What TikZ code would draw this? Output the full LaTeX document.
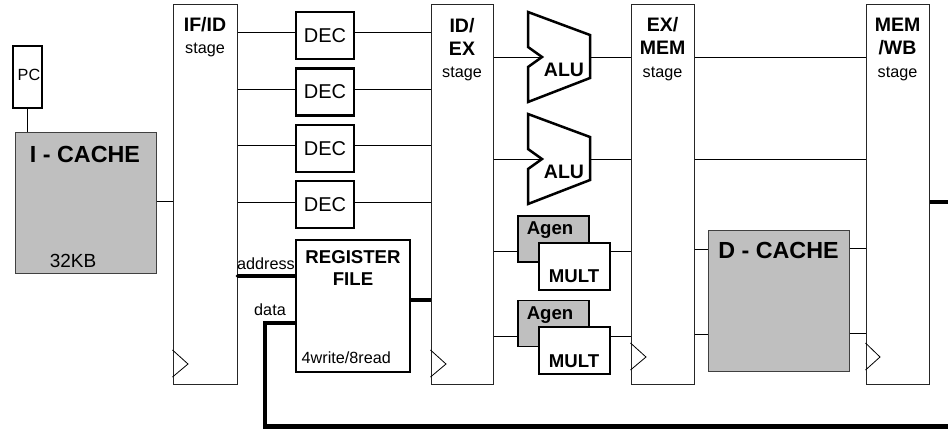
\documentclass[tikz,border=0pt]{standalone}
\usepackage{fontspec}
\setmainfont{Liberation Sans}
\newcommand\myhead{\fontsize{19.5}{23}\selectfont\bfseries}
\newcommand\mylab{\fontsize{16.2}{19}\selectfont}
\newcommand\mydec{\fontsize{20}{23}\selectfont}
\newcommand\mybig{\fontsize{23.3}{27}\selectfont\bfseries}
\newcommand\myunit{\fontsize{18.6}{22}\selectfont\bfseries}
\begin{document}
\begin{tikzpicture}[x=1pt,y=-1pt,
  stagebox/.style={draw=black!85, line width=1pt, fill=white, minimum width=#1, minimum height=380pt, inner sep=0pt},
  clk/.style={draw=black, line width=0.8pt},
  txt/.style={inner sep=0pt, anchor=base},
  decbox/.style={draw=black, line width=2.5pt, fill=white, minimum width=58pt, minimum height=47pt, inner sep=0pt, font=\mydec},
  cache/.style={draw=black!75, line width=1pt, fill=black!25, minimum width=141pt, minimum height=141pt, inner sep=0pt},
  agenbox/.style={draw=black, line width=1.4pt, fill=black!25, minimum width=71pt, minimum height=46pt, inner sep=0pt},
  multbox/.style={draw=black, line width=1.4pt, fill=white, minimum width=71pt, minimum height=47pt, inner sep=0pt},
  alu/.style={draw=black, line width=2.5pt, line join=miter, fill=white},
  wire/.style={draw=black, line width=1pt},
  bus/.style={draw=black, line width=3.5pt},
  bigbus/.style={draw=black, line width=4.5pt}
]
\useasboundingbox (0,0) rectangle (948,429);

% pipeline stage registers
\node[stagebox=64pt] (ifid) at (205,194) {};
\node[stagebox=62pt] (idex) at (462,194) {};
\node[stagebox=63pt] (exmem) at (662.5,194) {};
\node[stagebox=63pt] (memwb) at (897.5,194) {};

\draw[clk] (ifid.west |- 0,350) -- (188,364) -- (ifid.west |- 0,377);
\draw[clk] (idex.west |- 0,350) -- (446,364) -- (idex.west |- 0,377);
\draw[clk] (exmem.west |- 0,343) -- (646,357) -- (exmem.west |- 0,370);
\draw[clk] (memwb.west |- 0,343) -- (880,357) -- (memwb.west |- 0,370);

\node[txt,font=\myhead] (ifidA) at (205,31) {IF/ID};
\node[txt,font=\mylab]  (ifidB) at (205,53.5) {stage};
\node[txt,font=\myhead] (idexA) at (462,32) {ID/};
\node[txt,font=\myhead] (idexB) at (462,55) {EX};
\node[txt,font=\mylab]  (idexC) at (462,77) {stage};
\node[txt,font=\myhead] (exmemA) at (662.5,31) {EX/};
\node[txt,font=\myhead] (exmemB) at (662.5,54.5) {MEM};
\node[txt,font=\mylab]  (exmemC) at (662.5,77) {stage};
\node[txt,font=\myhead] (memwbA) at (897.5,31) {MEM};
\node[txt,font=\myhead] (memwbB) at (897.5,54.5) {/WB};
\node[txt,font=\mylab]  (memwbC) at (897.5,77) {stage};

% PC and I-cache
\node[draw=black, line width=1.2pt, fill=white, minimum width=29pt, minimum height=62pt, inner sep=0pt] (pc) at (27.5,77) {};
\node[txt,font=\mylab] (pcT) at (29,80) {PC};
\node[cache] (icache) at (85.5,202.5) {};
\node[txt,font=\mybig] (icT) at (85,162) {I - CACHE};
\node[txt,font=\fontsize{19}{22}\selectfont] (icS) at (73,267) {32KB};
\draw[wire] (pc.south) -- (pc.south |- icache.north);
\draw[wire] (icache.east |- 0,201) -- (ifid.west |- 0,201);

% decoders
\node[decbox] (dec1) at (325,35.5) {DEC};
\node[decbox] (dec2) at (325,92) {DEC};
\node[decbox] (dec3) at (325,148.5) {DEC};
\node[decbox] (dec4) at (325,204.5) {DEC};
\foreach \d/\y in {dec1/32,dec2/89,dec3/145,dec4/202}{
  \draw[wire] (ifid.east |- 0,\y) -- (\d.west |- 0,\y);
  \draw[wire] (\d.east |- 0,\y) -- (idex.west |- 0,\y);
}

% register file
\node[draw=black, line width=2.5pt, fill=white, minimum width=114pt, minimum height=132pt, inner sep=0pt] (rf) at (353,306) {};
\node[txt,font=\myunit] (rfA) at (353,263) {REGISTER};
\node[txt,font=\myunit] (rfB) at (353,285) {FILE};
\node[txt,font=\mylab,anchor=base west] (rfC) at (301.5,363) {4write/8read};
\draw[bus] (ifid.east |- 0,276) -- (rf.west |- 0,276);
\fill (ifid.east |- 0,276) circle (1.9pt);
\node[txt,font=\mylab] (addrT) at (266,269) {address};
\node[txt,font=\mylab] (dataT) at (270,315) {data};
\draw[bus] (rf.east |- 0,300) -- (idex.west |- 0,300);
\draw[bigbus] (rf.west |- 0,323) -- (265,323) -- (265,426.5) -- (960,426.5) -- (960,202) -- (memwb.east |- 0,202);

% ALUs
\draw[alu] (528,12) -- (590,35) -- (590,78) -- (528,102) -- (528,67) -- (542,57) -- (528,47) -- cycle;
\coordinate (alu1in) at (542,57);
\coordinate (alu1out) at (590,57);
\node[txt,font=\myhead] (alu1T) at (564,76) {ALU};
\draw[alu] (528,114) -- (590,137) -- (590,180) -- (528,204) -- (528,169) -- (542,159) -- (528,149) -- cycle;
\coordinate (alu2in) at (542,159);
\coordinate (alu2out) at (590,159);
\node[txt,font=\myhead] (alu2T) at (564,178) {ALU};
\draw[wire] (idex.east |- alu1in) -- (alu1in);
\draw[wire] (alu1out) -- (exmem.west |- alu1out);
\draw[wire] (idex.east |- alu2in) -- (alu2in);
\draw[wire] (alu2out) -- (exmem.west |- alu2out);
\draw[wire] (exmem.east |- 0,57) -- (memwb.west |- 0,57);
\draw[wire] (exmem.east |- 0,159) -- (memwb.west |- 0,159);

% Agen / MULT
\node[agenbox] (agen1) at (553.5,239) {};
\node[txt,font=\myunit] (agen1T) at (550,234) {Agen};
\node[multbox] (mult1) at (574.5,266.5) {};
\node[txt,font=\myunit] (mult1T) at (574,282) {MULT};
\node[agenbox] (agen2) at (553.5,323.5) {};
\node[txt,font=\myunit] (agen2T) at (550,319) {Agen};
\node[multbox] (mult2) at (574.5,350.5) {};
\node[txt,font=\myunit] (mult2T) at (574,367) {MULT};
\draw[wire] (idex.east |- 0,251) -- (agen1.west |- 0,251);
\draw[wire] (mult1.east |- 0,251) -- (exmem.west |- 0,251);
\draw[wire] (idex.east |- 0,336) -- (agen2.west |- 0,336);
\draw[wire] (mult2.east |- 0,336) -- (exmem.west |- 0,336);

% D-cache
\node[cache] (dcache) at (778.5,300.5) {};
\node[txt,font=\mybig] (dcT) at (778.5,258) {D - CACHE};
\draw[wire] (exmem.east |- 0,249) -- (dcache.west |- 0,249);
\draw[wire] (exmem.east |- 0,334) -- (dcache.west |- 0,334);
\draw[wire] (dcache.east |- 0,248) -- (memwb.west |- 0,248);
\draw[wire] (dcache.east |- 0,333) -- (memwb.west |- 0,333);
\end{tikzpicture}
\end{document}
